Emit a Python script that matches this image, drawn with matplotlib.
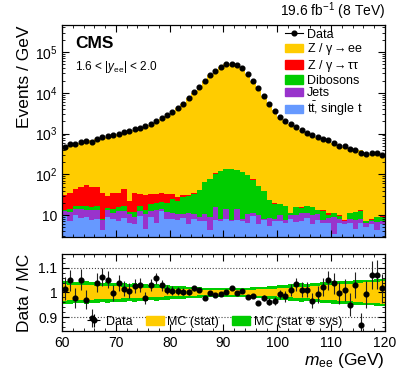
import numpy as np
import matplotlib.pyplot as plt
from matplotlib.lines import Line2D
from matplotlib.patches import Patch
from matplotlib.ticker import MultipleLocator, LogLocator, FuncFormatter, NullFormatter

plt.rcParams['font.family'] = ['Liberation Sans', 'DejaVu Sans']
plt.rcParams['mathtext.fontset'] = 'custom'
plt.rcParams['mathtext.rm'] = 'Liberation Sans'
plt.rcParams['mathtext.it'] = 'Liberation Sans:italic'
plt.rcParams['mathtext.bf'] = 'Liberation Sans:bold'

# бины по 1 GeV, 60-120
edges = np.arange(60, 121, 1)
centers = edges[:-1] + 0.5

# данные, events / GeV
data = np.array([
    475, 552, 562, 608, 666, 630, 746, 820, 883, 918,
    988, 1071, 1150, 1290, 1364, 1520, 1710, 2066, 2360, 2800,
    3310, 4150, 5380, 7420, 10200, 14000, 19000, 26800, 35000, 43500,
    50000, 52000, 48500, 40400, 28800, 19400, 13100, 8320, 5300, 3570,
    2580, 1990, 1690, 1470, 1230, 1060, 904, 807, 725, 685,
    595, 499, 485, 417, 398, 336, 317, 342, 327, 293])

# data / MC
ratio = np.array([
    1.015, 1.049, 0.978, 1.052, 0.971, 0.895, 1.040, 1.062, 1.053, 0.999,
    1.040, 1.015, 1.008, 1.026, 1.030, 0.978, 1.031, 1.058, 1.029, 1.011,
    1.008, 1.005, 1.004, 1.001, 1.018, 1.011, 0.978, 0.997, 0.990, 0.992,
    1.001, 1.018, 0.999, 1.008, 0.981, 0.985, 0.958, 0.978, 0.963, 0.966,
    0.992, 0.985, 1.012, 1.033, 1.012, 1.012, 0.967, 0.992, 1.022, 1.049,
    1.038, 0.997, 1.011, 0.950, 1.031, 0.869, 0.992, 1.072, 1.072, 1.018])

# фоны
ttbar = np.array([
    9.5, 7.0, 9.8, 8.6, 9.0, 7.5, 8.2, 4.2, 9.0, 8.0,
    7.2, 8.5, 6.5, 6.0, 9.5, 4.5, 8.8, 6.5, 12.5, 8.0,
    8.0, 7.5, 8.5, 6.0, 7.8, 7.0, 7.0, 4.2, 7.5, 7.0,
    8.0, 7.2, 7.5, 7.0, 6.5, 9.5, 6.2, 7.5, 5.5, 7.0,
    7.0, 6.5, 7.8, 6.6, 7.0, 8.5, 6.0, 7.5, 6.5, 6.5,
    3.5, 6.5, 6.0, 6.5, 4.5, 6.5, 5.0, 6.2, 4.2, 6.2])
jets = np.array([
    3.0, 5.0, 4.5, 5.5, 4.5, 6.0, 5.5, 3.5, 4.5, 3.0,
    5.5, 4.0, 4.0, 3.2, 3.0, 6.0, 4.0, 7.0, 2.0, 4.0,
    3.3, 3.0, 2.0, 5.0, 3.0, 2.0, 3.5, 5.0, 8.0, 1.0,
    6.5, 0.5, 7.0, 1.0, 4.0, 1.5, 4.0, 0.5, 3.0, 1.0,
    3.0, 1.0, 2.5, 3.5, 4.0, 3.0, 4.0, 3.0, 1.0, 2.0,
    5.5, 1.5, 1.0, 1.5, 3.0, 1.5, 1.5, 1.0, 2.5, 1.0])
diboson = np.array([
    0.8, 2.5, 2.0, 3.0, 3.5, 2.5, 3.0, 0.5, 1.5, 3.0,
    3.5, 4.5, 1.5, 2.5, 4.0, 2.5, 6.0, 6.5, 7.0, 8.0,
    13.7, 12.0, 17.0, 19.0, 22.0, 32.0, 54.0, 68.0, 89.0, 111.0,
    117.0, 124.0, 112.0, 105.0, 87.0, 63.5, 40.8, 30.6, 15.0, 11.0,
    8.3, 8.8, 0.8, 5.6, 4.2, 4.8, 5.7, 2.5, 5.2, 1.3,
    2.1, 1.5, 0.2, 3.1, 4.2, 4.7, 0.5, 0.3, 2.1, 1.9])
ztautau = np.array([
    18, 21, 28, 33, 38, 33, 33, 26, 15, 20,
    19, 27, 10, 24, 17, 18, 15, 13, 14, 12,
    7, 5, 3, 1.5, 1.2, 1.0, 0.8, 0.8, 0.7, 0.6,
    0.5, 0.5, 0.5, 0.5, 0.5, 0.5, 0.5, 0.4, 0.4, 0.4,
    0.3, 0.3, 0.3, 0.3, 0.3, 0.3, 0.3, 0.3, 0.3, 1.2,
    0.3, 0.3, 0.3, 0.3, 0.3, 0.3, 0.3, 0.3, 0.3, 0.3])

# относительные неопределенности MC
stat_err = np.array([
    0.033, 0.032, 0.031, 0.030, 0.030, 0.029, 0.028, 0.027, 0.026, 0.026,
    0.025, 0.024, 0.023, 0.022, 0.021, 0.020, 0.019, 0.018, 0.017, 0.016,
    0.016, 0.015, 0.014, 0.013, 0.013, 0.012, 0.012, 0.011, 0.011, 0.010,
    0.010, 0.010, 0.011, 0.011, 0.012, 0.012, 0.013, 0.014, 0.015, 0.016,
    0.017, 0.018, 0.020, 0.021, 0.023, 0.024, 0.026, 0.027, 0.029, 0.030,
    0.032, 0.033, 0.035, 0.036, 0.038, 0.039, 0.041, 0.042, 0.044, 0.045])
tot_err = np.array([
    0.045, 0.047, 0.043, 0.044, 0.046, 0.041, 0.042, 0.040, 0.043, 0.039,
    0.038, 0.040, 0.036, 0.037, 0.034, 0.035, 0.032, 0.033, 0.030, 0.029,
    0.027, 0.028, 0.025, 0.024, 0.023, 0.021, 0.020, 0.019, 0.018, 0.017,
    0.017, 0.017, 0.018, 0.019, 0.020, 0.021, 0.023, 0.024, 0.026, 0.027,
    0.029, 0.030, 0.033, 0.034, 0.038, 0.036, 0.040, 0.039, 0.043, 0.042,
    0.045, 0.046, 0.048, 0.047, 0.051, 0.050, 0.053, 0.052, 0.056, 0.055])

# Z -> ee = всё MC минус фоны
bkg = ttbar + jets + diboson + ztautau
zee = data / ratio - bkg

c_zee = '#ffcc00'
c_tau = '#ff0000'
c_vv = '#00cc00'
c_jets = '#9933cc'
c_tt = '#6699ff'

fig = plt.figure(figsize=(3.99, 3.83), dpi=100)
ax1 = fig.add_axes([0.1554, 0.3812, 0.8095, 0.5535])
ax2 = fig.add_axes([0.1554, 0.1358, 0.8095, 0.2010])

# стек
layers = [(ttbar, c_tt), (jets, c_jets), (diboson, c_vv), (ztautau, c_tau), (zee, c_zee)]
base = np.full(len(centers), 1e-3)
for vals, col in layers:
    top = base + vals
    ax1.stairs(top, edges, baseline=base, fill=True, color=col, lw=0)
    base = top

ax1.errorbar(centers, data, yerr=np.sqrt(data), fmt='o', color='black', ms=3.4, lw=0.8)

ax1.set_yscale('log')
ax1.set_xlim(60, 120)
ax1.set_ylim(2.9, 4.6e5)
ax1.set_ylabel('Events / GeV', fontsize=12.5, loc='top', labelpad=2)
ax1.yaxis.set_major_locator(LogLocator(base=10, numticks=10))
ax1.yaxis.set_minor_locator(LogLocator(base=10, subs=np.arange(2, 10), numticks=20))
ax1.yaxis.set_minor_formatter(NullFormatter())
ax1.yaxis.set_major_formatter(FuncFormatter(
    lambda v, p: '10' if abs(v - 10) < 1e-6 else r'$10^{%d}$' % round(np.log10(v))))
ax1.xaxis.set_major_locator(MultipleLocator(10))
ax1.xaxis.set_minor_locator(MultipleLocator(2))
ax1.tick_params(labelbottom=False)

ax1.text(0.04, 0.95, 'CMS', transform=ax1.transAxes, fontsize=12.5, fontweight='bold', va='top')
ax1.text(0.04, 0.80, r'1.6 < |$y_{\mathrm{ee}}$| < 2.0', transform=ax1.transAxes, fontsize=8.5, va='center')
ax1.text(1.0, 1.015, r'19.6 fb$^{-1}$ (8 TeV)', transform=ax1.transAxes, fontsize=10, ha='right', va='bottom')

handles = [
    Line2D([], [], color='black', marker='o', ms=3.4, lw=0.8),
    Patch(color=c_zee), Patch(color=c_tau), Patch(color=c_vv), Patch(color=c_jets), Patch(color=c_tt)]
labels = ['Data', r'Z / γ$\rightarrow$ee', r'Z / γ$\rightarrow$ττ', 'Dibosons', 'Jets',
          r'$\mathrm{t\bar{t}}$, single t']
ax1.legend(handles, labels, loc='upper left', bbox_to_anchor=(0.69, 0.982), frameon=False,
           fontsize=9, handlelength=1.45, handletextpad=0.3, labelspacing=0.05,
           borderpad=0, borderaxespad=0)

# нижняя панель
for y in (0.9, 1.0, 1.1):
    ax2.axhline(y, color='#444444', ls=':', lw=0.8, zorder=0)
ax2.fill_between(edges, np.append(1 - tot_err, 1 - tot_err[-1]), np.append(1 + tot_err, 1 + tot_err[-1]),
                 step='post', color=c_vv, lw=0)
ax2.fill_between(edges, np.append(1 - stat_err, 1 - stat_err[-1]), np.append(1 + stat_err, 1 + stat_err[-1]),
                 step='post', color=c_zee, lw=0)
ax2.errorbar(centers, ratio, yerr=ratio / np.sqrt(data), fmt='o', color='black', ecolor='#222222',
             ms=3.4, lw=0.8)

ax2.set_xlim(60, 120)
ax2.set_ylim(0.843, 1.157)
ax2.xaxis.set_major_locator(MultipleLocator(10))
ax2.xaxis.set_minor_locator(MultipleLocator(2))
ax2.set_yticks([0.9, 1.0, 1.1])
ax2.set_yticklabels(['0.9', '1', '1.1'])
ax2.yaxis.set_minor_locator(MultipleLocator(0.02))
ax2.set_ylabel('Data / MC', fontsize=12.5, labelpad=4)
ax2.set_xlabel(r'$m_{\mathrm{ee}}$ (GeV)', fontsize=12.5, loc='right', labelpad=1)

dh = ax2.errorbar([np.nan], [np.nan], xerr=[1], yerr=[1], fmt='o', color='black', ms=3.4, lw=0.8)
h2 = [dh, Patch(color=c_zee), Patch(color=c_vv)]
ax2.legend(h2, ['Data', 'MC (stat)', 'MC (stat ⊕ sys)'], ncol=3, loc='center left',
           bbox_to_anchor=(0.07, 0.12), frameon=False, fontsize=9, handlelength=1.45,
           handletextpad=0.3, columnspacing=1.0, borderpad=0, borderaxespad=0)

for ax in (ax1, ax2):
    ax.tick_params(which='both', direction='in', top=True, right=True, labelsize=10)
    ax.tick_params(which='major', length=5, width=0.8)
    ax.tick_params(which='minor', length=2.5, width=0.6)
    for s in ax.spines.values():
        s.set_linewidth(0.9)

fig.savefig('out.png', dpi=100)
